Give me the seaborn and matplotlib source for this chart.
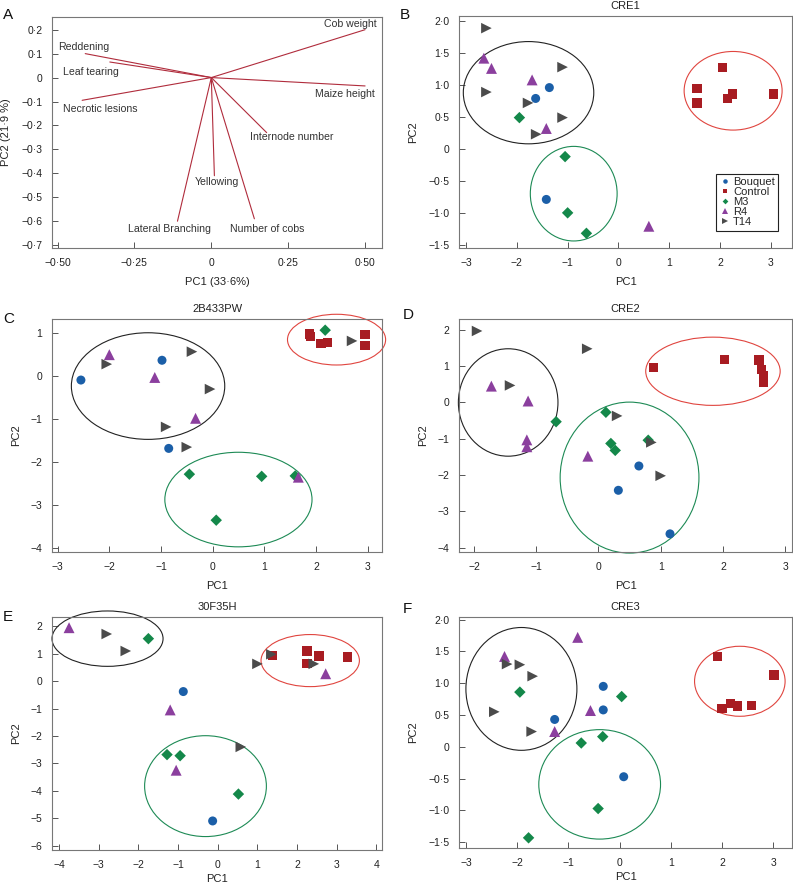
import numpy as np
import pandas as pd
import matplotlib
matplotlib.use("Agg")
import matplotlib.pyplot as plt
from matplotlib.patches import Ellipse
from matplotlib.ticker import FixedLocator, FuncFormatter
import seaborn as sns

# --- データ ---
groups = ["Bouquet", "Control", "M3", "R4", "T14"]
group_colors = ["#1b5fa8", "#a81c22", "#14884a", "#8b3f9e", "#4b4b4b"]
group_markers = ["o", "s", "D", "^", ">"]
group_sizes = [42, 44, 34, 62, 58]

# パネルA: 負荷量
trait_names = ["Cob weight", "Maize height", "Reddening", "Leaf tearing", "Necrotic lesions",
               "Internode number", "Yellowing", "Lateral Branching", "Number of cobs"]
trait_pc1 = [0.50, 0.50, -0.41, -0.33, -0.42, 0.18, 0.01, -0.11, 0.14]
trait_pc2 = [0.20, -0.035, 0.10, 0.065, -0.095, -0.23, -0.41, -0.60, -0.59]

# パネルB: CRE1
cre1_group = ["Bouquet"] * 3 + ["Control"] * 6 + ["M3"] * 4 + ["R4"] * 5 + ["T14"] * 6
cre1_pc1 = [-1.36, -1.63, -1.42,
            2.05, 1.55, 1.55, 2.25, 2.15, 3.05,
            -1.95, -1.05, -1.00, -0.63,
            -2.65, -2.50, -1.70, -1.42, 0.60,
            -2.60, -2.60, -1.10, -1.78, -1.10, -1.62]
cre1_pc2 = [0.96, 0.79, -0.79,
            1.27, 0.94, 0.72, 0.86, 0.79, 0.86,
            0.49, -0.12, -1.00, -1.32,
            1.42, 1.26, 1.08, 0.32, -1.21,
            1.89, 0.89, 1.28, 0.72, 0.49, 0.23]
cre1_ellipses = [(-1.77, 0.88, 2.57, 1.60), (2.26, 0.91, 1.93, 1.23), (-0.88, -0.70, 1.71, 1.48)]

# パネルC: 2B433PW
b433_group = ["Bouquet"] * 3 + ["Control"] * 6 + ["M3"] * 5 + ["R4"] * 4 + ["T14"] * 6
b433_pc1 = [-2.55, -0.98, -0.85,
            1.88, 1.90, 2.10, 2.22, 2.95, 2.95,
            2.18, -0.45, 0.95, 1.60, 0.07,
            -2.00, -1.12, -0.33, 1.66,
            -2.05, -0.40, -0.05, -0.90, -0.50, 2.70]
b433_pc2 = [-0.09, 0.37, -1.68,
            0.98, 0.92, 0.76, 0.79, 0.97, 0.71,
            1.07, -2.28, -2.33, -2.32, -3.35,
            0.50, -0.03, -0.98, -2.35,
            0.28, 0.57, -0.30, -1.18, -1.65, 0.82]
b433_ellipses = [(-1.25, -0.23, 2.97, 2.48), (2.40, 0.85, 1.90, 1.18), (0.50, -2.87, 2.85, 2.20)]

# パネルD: CRE2
cre2_group = ["Bouquet"] * 3 + ["Control"] * 6 + ["M3"] * 5 + ["R4"] * 5 + ["T14"] * 6
cre2_pc1 = [0.65, 0.32, 1.15,
            0.88, 2.02, 2.58, 2.62, 2.65, 2.65,
            -0.68, 0.12, 0.20, 0.27, 0.80,
            -1.72, -1.13, -1.15, -1.15, -0.17,
            -1.95, -1.42, -0.18, 0.30, 0.85, 1.00]
cre2_pc2 = [-1.75, -2.42, -3.62,
            0.97, 1.19, 1.17, 0.90, 0.73, 0.55,
            -0.53, -0.27, -1.13, -1.32, -1.04,
            0.45, 0.04, -1.03, -1.22, -1.48,
            1.97, 0.47, 1.48, -0.37, -1.10, -2.02]
cre2_ellipses = [(-1.45, 0.00, 1.60, 2.96), (1.84, 0.86, 2.16, 1.88), (0.50, -2.07, 2.23, 4.16)]

# パネルE: 30F35H
f35_group = ["Bouquet"] * 2 + ["Control"] * 5 + ["M3"] * 4 + ["R4"] * 4 + ["T14"] * 6
f35_pc1 = [-0.87, -0.13,
           1.38, 2.25, 2.55, 2.25, 3.27,
           -1.75, -1.28, -0.95, 0.52,
           -3.75, -1.20, -1.05, 2.72,
           -2.80, -2.32, 1.00, 1.35, 2.42, 0.58]
f35_pc2 = [-0.38, -5.10,
           0.93, 1.10, 0.92, 0.63, 0.88,
           1.55, -2.68, -2.72, -4.12,
           1.95, -1.05, -3.25, 0.27,
           1.72, 1.10, 0.63, 0.98, 0.63, -2.40]
f35_ellipses = [(-2.78, 1.55, 2.80, 2.02), (2.33, 0.75, 2.48, 1.90), (-0.31, -3.83, 3.07, 3.68)]

# パネルF: CRE3
cre3_group = ["Bouquet"] * 4 + ["Control"] * 6 + ["M3"] * 6 + ["R4"] * 4 + ["T14"] * 5
cre3_pc1 = [-0.32, -0.32, -1.27, 0.08,
            1.92, 3.02, 2.00, 2.17, 2.30, 2.58,
            -1.95, 0.04, -0.75, -0.33, -0.42, -1.78,
            -2.25, -0.82, -0.57, -1.27,
            -2.20, -1.95, -1.70, -2.45, -1.72]
cre3_pc2 = [0.95, 0.58, 0.43, -0.47,
            1.42, 1.13, 0.60, 0.68, 0.64, 0.65,
            0.86, 0.79, 0.06, 0.16, -0.97, -1.43,
            1.42, 1.72, 0.57, 0.24,
            1.30, 1.29, 1.11, 0.55, 0.24]
cre3_ellipses = [(-1.92, 0.91, 2.17, 1.93), (2.35, 1.03, 1.77, 1.10), (-0.39, -0.59, 2.38, 1.72)]

ellipse_colors = ["#222222", "#e0453f", "#1d8a55"]

# --- 描画 ---
sns.set_theme(style="white")
plt.rcParams["font.family"] = ["Liberation Sans", "DejaVu Sans"]
plt.rcParams["axes.unicode_minus"] = True

W, H = 793, 884
fig = plt.figure(figsize=(W / 100, H / 100), dpi=100)


def px_axes(left, top, right, bottom):
    return fig.add_axes([left / W, 1 - bottom / H, (right - left) / W, (bottom - top) / H])


def dot_fmt(decimals):
    def f(v, pos):
        if abs(v) < 1e-9:
            return "0"
        return f"{v:.{decimals}f}".replace(".", "\u00b7").replace("-", "\u2212")
    return FuncFormatter(f)


def style_axes(ax, xticks, yticks, xdec, ydec, xlabel, ylabel, xpad=7):
    ax.xaxis.set_major_locator(FixedLocator(xticks))
    ax.yaxis.set_major_locator(FixedLocator(yticks))
    ax.xaxis.set_major_formatter(dot_fmt(xdec))
    ax.yaxis.set_major_formatter(dot_fmt(ydec))
    ax.tick_params(axis="both", which="both", direction="in", length=4, width=0.7,
                   colors="#555555", labelcolor="#222222", labelsize=7.5, pad=7,
                   bottom=True, left=True, top=False, right=False)
    for sp in ax.spines.values():
        sp.set_color("#777777")
        sp.set_linewidth(0.8)
    ax.set_xlabel(xlabel, fontsize=8, color="#222222", labelpad=xpad)
    ax.set_ylabel(ylabel, fontsize=8, color="#222222", labelpad=7)


def scatter_panel(ax, grp, pc1, pc2, ellipses, title, show_legend=False):
    df = pd.DataFrame({"group": grp, "PC1": pc1, "PC2": pc2})
    sns.scatterplot(data=df, x="PC1", y="PC2", hue="group", style="group", size="group",
                    hue_order=groups, style_order=groups, size_order=groups,
                    palette=dict(zip(groups, group_colors)),
                    markers=dict(zip(groups, group_markers)),
                    sizes=dict(zip(groups, group_sizes)),
                    linewidth=0, ax=ax, legend=show_legend, zorder=3)
    for (cx, cy, ew, eh), col in zip(ellipses, ellipse_colors):
        ax.add_patch(Ellipse((cx, cy), ew, eh, fill=False, edgecolor=col,
                             linewidth=0.8, clip_on=False, zorder=2))
    ax.set_title(title, fontsize=8, color="#222222", pad=5)


# A
axA = px_axes(52, 17, 382, 248)
for name, x, y in zip(trait_names, trait_pc1, trait_pc2):
    axA.plot([0, x], [0, y], color="#b02c3c", linewidth=0.8)
label_pos = {
    "Cob weight": (0.451, 0.224), "Maize height": (0.433, -0.07), "Reddening": (-0.414, 0.129),
    "Leaf tearing": (-0.393, 0.025), "Necrotic lesions": (-0.362, -0.13),
    "Internode number": (0.263, -0.25), "Yellowing": (0.018, -0.437),
    "Lateral Branching": (-0.136, -0.633), "Number of cobs": (0.182, -0.633),
}
for name in trait_names:
    lx, ly = label_pos[name]
    axA.text(lx, ly, name, ha="center", va="center", fontsize=7.6, color="#333333")
axA.set_xlim(-0.518, 0.555)
axA.set_ylim(-0.712, 0.253)
style_axes(axA, [-0.5, -0.25, 0, 0.25, 0.5], np.arange(-0.7, 0.21, 0.1).round(1), 2, 1,
           "PC1 (33\u00b76%)", "PC2 (21\u00b79 %)")

# B
axB = px_axes(459, 16, 792, 248)
scatter_panel(axB, cre1_group, cre1_pc1, cre1_pc2, cre1_ellipses, "CRE1", show_legend=True)
axB.set_xlim(-3.14, 3.42)
axB.set_ylim(-1.55, 2.08)
style_axes(axB, [-3, -2, -1, 0, 1, 2, 3], np.arange(-1.5, 2.01, 0.5), 0, 1, "PC1", "PC2")
leg = axB.legend(loc="lower right", bbox_to_anchor=(0.958, 0.075), fontsize=8,
                 frameon=True, fancybox=False, edgecolor="#222222", framealpha=1,
                 handletextpad=0.2, labelspacing=0.0, borderpad=0.3, handlelength=1.0,
                 markerscale=0.5, borderaxespad=0)
leg.get_frame().set_linewidth(0.8)

# C
axC = px_axes(52, 319, 382, 552)
scatter_panel(axC, b433_group, b433_pc1, b433_pc2, b433_ellipses, "2B433PW")
axC.set_xlim(-3.11, 3.28)
axC.set_ylim(-4.09, 1.33)
style_axes(axC, [-3, -2, -1, 0, 1, 2, 3], [-4, -3, -2, -1, 0, 1], 0, 0, "PC1", "PC2")

# D
axD = px_axes(459, 319, 792, 552)
scatter_panel(axD, cre2_group, cre2_pc1, cre2_pc2, cre2_ellipses, "CRE2")
axD.set_xlim(-2.24, 3.11)
axD.set_ylim(-4.12, 2.30)
style_axes(axD, [-2, -1, 0, 1, 2, 3], [-4, -3, -2, -1, 0, 1, 2], 0, 0, "PC1", "PC2")

# E
axE = px_axes(52, 617, 382, 850)
scatter_panel(axE, f35_group, f35_pc1, f35_pc2, f35_ellipses, "30F35H")
axE.set_xlim(-4.18, 4.14)
axE.set_ylim(-6.16, 2.34)
style_axes(axE, list(range(-4, 5)), list(range(-6, 3)), 0, 0, "PC1", "PC2", xpad=3)

# F
axF = px_axes(459, 617, 792, 848)
scatter_panel(axF, cre3_group, cre3_pc1, cre3_pc2, cre3_ellipses, "CRE3")
axF.set_xlim(-3.14, 3.37)
axF.set_ylim(-1.59, 2.04)
style_axes(axF, [-3, -2, -1, 0, 1, 2, 3], np.arange(-1.5, 2.01, 0.5), 0, 1, "PC1", "PC2", xpad=3)

# パネル記号
for letter, x, y in [("A", 3, 15), ("B", 400, 15), ("C", 3, 319), ("D", 403, 315),
                     ("E", 3, 617), ("F", 403, 609)]:
    fig.text(x / W, 1 - y / H, letter, fontsize=11, ha="left", va="center", color="#111111")

fig.savefig("out.png", dpi=100)
